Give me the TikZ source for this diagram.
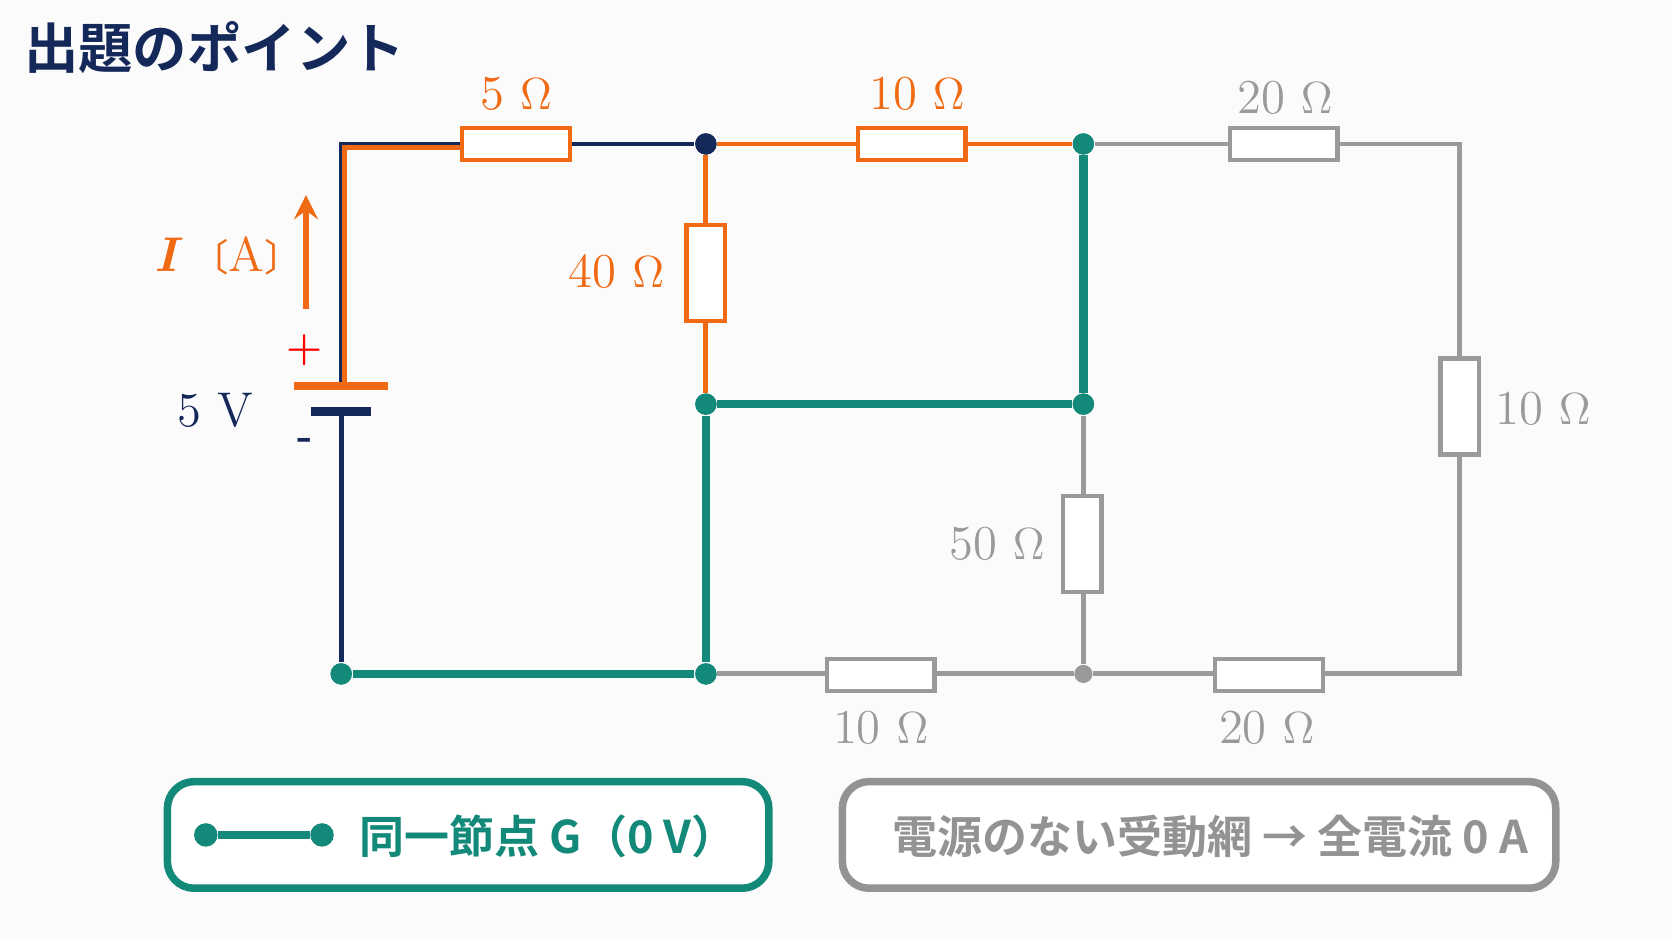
\documentclass[tikz,border=0pt]{standalone}
\usepackage{fontspec}
\newfontfamily\cjk{Noto Sans CJK JP}[BoldFont={Noto Sans CJK JP Bold}]
\begin{document}
\definecolor{navy}{HTML}{14285A}
\definecolor{org}{HTML}{F06A14}
\definecolor{teal}{HTML}{13897A}
\definecolor{gry}{HTML}{9A9A9A}
\begin{tikzpicture}[x=0.01cm,y=-0.01cm,
 res/.style={draw,line width=1.2pt,fill=white,inner sep=0pt},
 hres/.style={res,minimum width=1.01cm,minimum height=0.3cm},
 vres/.style={res,minimum width=0.36cm,minimum height=0.9cm},
 dot/.style={circle,fill,inner sep=0pt,minimum size=0.2cm},
 lbl/.style={font=\fontsize{13}{15}\selectfont},
 w/.style={line width=1.3pt},
 tw/.style={line width=2.2pt,teal}]
\useasboundingbox[fill=white!97!gray] (0,0) rectangle (1568,882);
\coordinate (A) at (320,135);
\coordinate (bt) at (320,362); \coordinate (bb) at (320,386);
\node[dot,navy] (n1) at (662,135) {};
\node[dot,teal] (n2) at (1016,135) {};
\node[dot,teal] (n3) at (662,379) {};
\node[dot,teal] (n4) at (1016,379) {};
\node[dot,teal] (n5) at (320,632) {};
\node[dot,teal] (n6) at (662,632) {};
\node[dot,gry,minimum size=0.17cm] (n7) at (1016,632) {};
\coordinate (TR) at (1369,135); \coordinate (BR) at (1369,632);
\draw[w,gry] (n2) -- (TR) -- (BR) -- (n7) -- (n6);
\draw[w,gry] (n4) -- (n7);
\node[hres,draw=gry] (r20t) at (1204,135) {};
\node[vres,draw=gry] (r10r) at (1369,381) {};
\node[vres,draw=gry] (r50) at (1015,510) {};
\node[hres,draw=gry] (r10b) at (826,633) {};
\node[hres,draw=gry] (r20b) at (1190,633) {};
\draw[w,navy] (bt) -- (A) -- (n1);
\draw[w,navy] (bb) -- (n5);
\node[hres,draw=org] (r5) at (484,135) {};
\draw[w,org] (323,362) -- (323,138) -- (r5.west|-0,138);
\draw[w,org] (n1) -- (n2);
\draw[w,org] (n1) -- (n3);
\node[hres,draw=org] (r10t) at (855,135) {};
\node[vres,draw=org] (r40) at (662,256) {};
\draw[tw] (n2) -- (n4) -- (n3) -- (n6) -- (n5);
\node[dot,teal] at (n3) {}; \node[dot,teal] at (n4) {}; \node[dot,teal] at (n2) {};
\node[dot,navy] at (n1) {}; \node[dot,teal] at (n5) {}; \node[dot,teal] at (n6) {};
\draw[line width=2.2pt,org] (276,362) -- (364,362);
\draw[line width=2.2pt,navy] (292,386) -- (348,386);
\node[red,font=\fontsize{11}{11}\selectfont\bfseries] at (286,328) {+};
\node[navy,font=\fontsize{11}{11}\selectfont\bfseries] at (286,416) {-};
\node[lbl,navy] at (202,385) {5 V};
\coordinate (ia) at (287,290); \coordinate (ib) at (287,183);
\draw[line width=1.8pt,org,->,>=stealth] (ia) -- (ib);
\node[lbl,org] at (214,240) {\textbf{\textit{I}}\,{\cjk\fontsize{10}{10}\selectfont〔}A{\cjk\fontsize{10}{10}\selectfont〕}};
\node[lbl,org] at (484,88) {5 $\Omega$};
\node[lbl,org] at (860,88) {10 $\Omega$};
\node[lbl,gry] at (1205,92) {20 $\Omega$};
\node[lbl,org] at (578,255) {40 $\Omega$};
\node[lbl,gry] at (1447,383) {10 $\Omega$};
\node[lbl,gry] at (935,510) {50 $\Omega$};
\node[lbl,gry] at (826,683) {10 $\Omega$};
\node[lbl,gry] at (1188,683) {20 $\Omega$};
\node[navy,anchor=west,inner sep=0pt,font=\cjk\bfseries\fontsize{14.5}{17}\selectfont] (title) at (22,45) {出題のポイント};
\draw[teal,line width=2pt,rounded corners=0.25cm,fill=white] (157,733) rectangle (721,833);
\node[dot,teal,minimum size=0.22cm] (l1) at (193,783) {};
\node[dot,teal,minimum size=0.22cm] (l2) at (302,783) {};
\draw[tw] (l1) -- (l2);
\node[teal,font=\cjk\bfseries\fontsize{12}{14}\selectfont] at (514,784) {同一節点 G（0 V）};
\draw[gray!85,line width=2pt,rounded corners=0.25cm,fill=white] (790,733) rectangle (1459,833);
\node[gray!85,font=\cjk\bfseries\fontsize{12}{14}\selectfont] at (1135,784) {電源のない受動網 → 全電流 0 A};
\end{tikzpicture}
\end{document}
